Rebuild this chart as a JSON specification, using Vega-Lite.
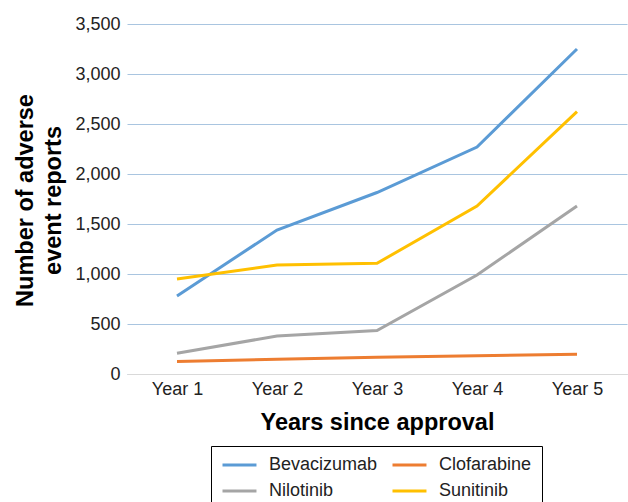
{
  "$schema": "https://vega.github.io/schema/vega-lite/v6.json",
  "width": 500,
  "height": 350,
  "autosize": {"type": "none"},
  "padding": {"left": 127, "top": 24, "right": 1, "bottom": 128},
  "background": "white",
  "config": {
    "view": {"stroke": null},
    "font": "Liberation Sans"
  },
  "data": {
    "values": [
      {"year": "Year 1", "drug": "Bevacizumab", "reports": 780},
      {"year": "Year 2", "drug": "Bevacizumab", "reports": 1440},
      {"year": "Year 3", "drug": "Bevacizumab", "reports": 1815},
      {"year": "Year 4", "drug": "Bevacizumab", "reports": 2270},
      {"year": "Year 5", "drug": "Bevacizumab", "reports": 3250},
      {"year": "Year 1", "drug": "Clofarabine", "reports": 125},
      {"year": "Year 2", "drug": "Clofarabine", "reports": 148},
      {"year": "Year 3", "drug": "Clofarabine", "reports": 167},
      {"year": "Year 4", "drug": "Clofarabine", "reports": 182},
      {"year": "Year 5", "drug": "Clofarabine", "reports": 197},
      {"year": "Year 1", "drug": "Nilotinib", "reports": 207},
      {"year": "Year 2", "drug": "Nilotinib", "reports": 380},
      {"year": "Year 3", "drug": "Nilotinib", "reports": 435},
      {"year": "Year 4", "drug": "Nilotinib", "reports": 990},
      {"year": "Year 5", "drug": "Nilotinib", "reports": 1680},
      {"year": "Year 1", "drug": "Sunitinib", "reports": 950},
      {"year": "Year 2", "drug": "Sunitinib", "reports": 1090},
      {"year": "Year 3", "drug": "Sunitinib", "reports": 1107},
      {"year": "Year 4", "drug": "Sunitinib", "reports": 1680},
      {"year": "Year 5", "drug": "Sunitinib", "reports": 2623}
    ]
  },
  "mark": {"type": "line", "strokeWidth": 3},
  "encoding": {
    "x": {
      "field": "year",
      "type": "ordinal",
      "scale": {"type": "point", "padding": 0.5},
      "axis": {
        "title": "Years since approval",
        "titleFontSize": 23.5,
        "titleFontWeight": "bold",
        "titleColor": "black",
        "titlePadding": 12,
        "labelAngle": 0,
        "labelFontSize": 18,
        "labelColor": "#222",
        "labelPadding": 6,
        "ticks": false,
        "grid": false,
        "domainColor": "#D9D9D9",
        "domainWidth": 1
      }
    },
    "y": {
      "field": "reports",
      "type": "quantitative",
      "scale": {"domain": [0, 3500]},
      "title": ["Number of adverse", "event reports"],
      "axis": {
        "titleFontSize": 23.5,
        "titleFontWeight": "bold",
        "titleColor": "black",
        "titleLineHeight": 28,
        "titleAngle": -90,
        "titleX": -102,
        "titleY": 176,
        "titleBaseline": "middle",
        "titleAlign": "center",
        "values": [0, 500, 1000, 1500, 2000, 2500, 3000, 3500],
        "format": ",.0f",
        "labelFontSize": 18,
        "labelColor": "#222",
        "labelPadding": 7,
        "ticks": false,
        "domain": false,
        "gridColor": "#A9C5E0",
        "gridWidth": 1
      }
    },
    "color": {
      "field": "drug",
      "type": "nominal",
      "scale": {
        "domain": ["Bevacizumab", "Clofarabine", "Nilotinib", "Sunitinib"],
        "range": ["#5B9BD5", "#ED7D31", "#A5A5A5", "#FFC000"]
      },
      "legend": {
        "title": null,
        "orient": "none",
        "legendX": 84,
        "legendY": 422,
        "columns": 2,
        "direction": "horizontal",
        "symbolType": "M-1,0H3.53",
        "symbolSize": 225,
        "symbolStrokeWidth": 3,
        "labelFontSize": 18,
        "labelColor": "#222",
        "labelOffset": 30,
        "columnPadding": 8,
        "rowPadding": 8,
        "padding": 10,
        "strokeColor": "black"
      }
    }
  }
}
